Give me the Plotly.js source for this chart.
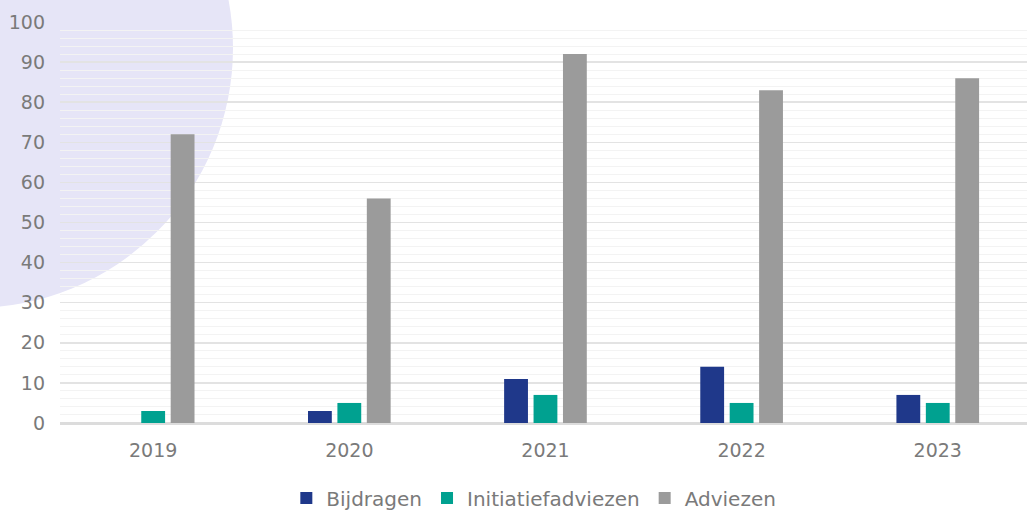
<!DOCTYPE html>
<html>
<head>
<meta charset="utf-8">
<script src="https://cdn.plot.ly/plotly-3.0.1.min.js"></script>
<style>
  html, body { margin: 0; padding: 0; background: #ffffff; overflow: hidden; }
  #wrap { position: relative; width: 1027px; height: 514px; overflow: hidden; }
  #circle { position: absolute; left: -287px; top: -212px; width: 520px; height: 520px;
            border-radius: 50%; background: #e6e5f7; }
  #chart { position: absolute; left: 0; top: 0; width: 1027px; height: 514px; }
</style>
</head>
<body>
<div id="wrap">
  <div id="circle"></div>
  <div id="chart"></div>
</div>
<script>
const years = ["2019", "2020", "2021", "2022", "2023"];
const bijdragen = [0, 3, 11, 14, 7];
const initiatiefadviezen = [3, 5, 7, 5, 5];
const adviezen = [72, 56, 92, 83, 86];
const yTickVals = [0, 10, 20, 30, 40, 50, 60, 70, 80, 90, 100];

const font = "'DejaVu Sans', 'Liberation Sans', Arial, sans-serif";
const traces = [
  { type: "bar", name: "Bijdragen", x: years, y: bijdragen, marker: { color: "#1f388a" } },
  { type: "bar", name: "Initiatiefadviezen", x: years, y: initiatiefadviezen, marker: { color: "#00a190" } },
  { type: "bar", name: "Adviezen", x: years, y: adviezen, marker: { color: "#9b9b9b" } }
];

const layout = {
  width: 1027, height: 514,
  paper_bgcolor: "rgba(0,0,0,0)", plot_bgcolor: "rgba(0,0,0,0)",
  margin: { l: 60, r: 0, t: 22, b: 91, autoexpand: false },
  barmode: "group", bargap: 0.55, bargroupgap: 0.19,
  font: { family: font, color: "#7a7a7a", size: 19 },
  xaxis: {
    type: "category", range: [-0.475, 4.455], automargin: false,
    showgrid: false, zeroline: false, showline: false, ticks: "",
    ticklabelstandoff: 14,
    tickfont: { family: font, size: 19, color: "#7a7a7a" }
  },
  yaxis: {
    range: [0, 100], tickvals: yTickVals, ticktext: yTickVals.map(String),
    automargin: false,
    showgrid: true, gridcolor: "#e3e3e3", gridwidth: 1.5,
    minor: { dtick: 2, showgrid: true, gridcolor: "#f3f3f3", gridwidth: 1 },
    zeroline: true, zerolinecolor: "#dcdcdc", zerolinewidth: 3,
    ticks: "", ticklabelstandoff: 14,
    tickfont: { family: font, size: 19, color: "#7a7a7a" },
    fixedrange: true
  },
  showlegend: true,
  legend: {
    orientation: "h", x: 0.49, xanchor: "center",
    yref: "container", y: 0.031, yanchor: "middle",
    font: { family: font, size: 20, color: "#7a7a7a" },
    itemwidth: 30, traceorder: "normal", bgcolor: "rgba(0,0,0,0)"
  }
};

Plotly.newPlot("chart", traces, layout, { displayModeBar: false, staticPlot: true });
</script>
</body>
</html>
